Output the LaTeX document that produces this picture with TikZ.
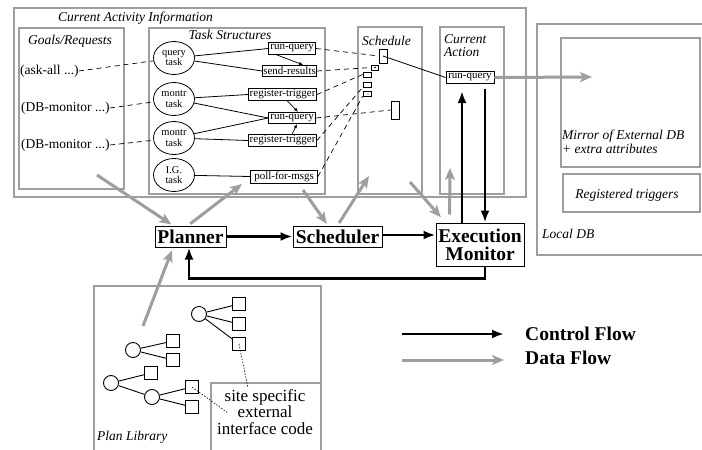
\documentclass[tikz,border=0pt]{standalone}
\usepackage{fontspec}
\setmainfont{Liberation Serif}
\usetikzlibrary{arrows.meta,shapes.geometric}
\definecolor{lgray}{RGB}{158,158,158}
\tikzset{
  gbox/.style={draw=lgray, line width=2pt, inner sep=0pt, anchor=north west},
  itl/.style={font=\fontsize{13.5}{14.5}\selectfont\itshape, inner sep=0pt, align=left},
  tbox/.style={draw, line width=0.8pt, inner sep=0pt, minimum height=11.5pt, font=\fontsize{11}{11}\selectfont, anchor=east},
  tcirc/.style={draw, ellipse, line width=0.8pt, minimum width=41pt, minimum height=33pt, inner sep=0pt, font=\fontsize{10.5}{10.5}\selectfont, align=center},
  goal/.style={font=\fontsize{13.5}{15}\selectfont, inner sep=0pt, anchor=west},
  dline/.style={dash pattern=on 5pt off 4pt, line width=0.7pt},
  tline/.style={line width=0.8pt},
  tarr/.style={line width=0.7pt, -{Latex[length=4pt,width=3.5pt]}},
  sbox/.style={draw, line width=0.7pt, inner sep=0pt},
  ctrl/.style={line width=2.6pt, -{Latex[length=12pt,width=9pt]}},
  data/.style={draw=lgray, line width=3pt, -{Stealth[length=12pt,width=10pt,inset=3pt]}},
  modbox/.style={draw, line width=1pt, inner sep=0pt, font=\fontsize{19.5}{18}\selectfont\bfseries, align=center},
  pcirc/.style={draw, circle, line width=0.9pt, minimum size=15pt, inner sep=0pt},
  psq/.style={draw, line width=0.9pt, minimum size=13pt, inner sep=0pt},
  pline/.style={line width=0.9pt},
  dotl/.style={dash pattern=on 1.5pt off 1.5pt, line width=0.6pt},
}
\begin{document}
\begin{tikzpicture}[x=1pt,y=-1pt]
\useasboundingbox (0,0) rectangle (702,450);
\fill[white] (0,0) rectangle (702,450);

% ---------- gray container boxes ----------
\node[gbox, minimum width=512pt, minimum height=189pt] (cai) at (13,7) {};
\node[gbox, minimum width=105pt, minimum height=161pt] (goals) at (18,27) {};
\node[gbox, minimum width=176pt, minimum height=166pt] (tasks) at (148,27) {};
\node[gbox, minimum width=64pt, minimum height=167pt] (sched) at (357,26) {};
\node[gbox, minimum width=64pt, minimum height=167pt] (curr) at (439,26) {};
\node[gbox, minimum width=180pt, minimum height=231pt] (ldb) at (536,23) {};
\node[gbox, minimum width=139pt, minimum height=129pt] (mirror) at (560,37) {};
\node[gbox, minimum width=137pt, minimum height=38pt] (trig) at (562,173) {};
\node[gbox, minimum width=227pt, minimum height=170pt] (plib) at (93,285) {};
\node[gbox, minimum width=110pt, minimum height=72pt] (site) at (210,382) {};

% ---------- labels of containers ----------
\node[itl, anchor=west] (caiT) at (58,18) {Current Activity Information};
\node[itl] (goalsT) at (70,41) {Goals/Requests};
\node[itl] (tasksT) at (230,35) {Task Structures};
\node[itl] (schedT) at (386.5,41) {Schedule};
\node[itl, anchor=north west] (currT) at (444,34) {Current\\[-1pt]Action};
\node[itl, anchor=west] (mirrorT) at (562,142) {Mirror of External DB\\+ extra attributes};
\node[itl] (trigT) at (627,195) {Registered triggers};
\node[itl, anchor=west] (ldbT) at (542,234) {Local DB};
\node[itl, anchor=west] (plibT) at (97,437) {Plan Library};
\node[font=\fontsize{17}{16.7}\selectfont, inner sep=0pt, align=center] (siteT) at (265,412) {site specific\\external\\interface code};

% ---------- goals ----------
\node[goal] (ask) at (20,71) {(ask-all ...)};
\node[goal] (db1) at (21,108) {(DB-monitor ...)};
\node[goal] (db2) at (21,145) {(DB-monitor ...)};

% ---------- task structures ----------
\node[tcirc] (qt) at (174,58) {query\\task};
\node[tcirc] (m1) at (174,99) {montr\\task};
\node[tcirc] (m2) at (174,138) {montr\\task};
\node[tcirc] (ig) at (174,175) {I.G.\\task};

\node[tbox, minimum width=47pt] (rq1) at (316,48.5) {run-query};
\node[tbox, minimum width=54pt] (sr) at (317,71) {send-results};
\node[tbox, minimum width=68pt] (rt1) at (317,94.5) {register-trigger};
\node[tbox, minimum width=47pt] (rq2) at (316,118) {run-query};
\node[tbox, minimum width=68pt] (rt2) at (317,140.5) {register-trigger};
\node[tbox, minimum width=67pt, minimum height=13pt] (pfm) at (318,176.5) {poll-for-msgs};

\draw[dline] (ask.east) -- (qt);
\draw[dline] (db1.east) -- (m1);
\draw[dline] (db2.east) -- (m2);

\draw[tline] (qt) -- (rq1.west);
\draw[tline] (qt) -- (sr.west);
\draw[tline] (m1) -- (rt1.west);
\draw[tline] (m1) -- (rq2.west);
\draw[tline] (m2) -- (rq2.west);
\draw[tline] (m2) -- (rt2.west);
\draw[tline] (ig) -- (pfm.west);

\draw[tarr] ([xshift=8pt]rq1.south west) -- ([xshift=-14pt]sr.north east);
\draw[tarr] ([xshift=-30pt]rt1.south east) -- ([xshift=-18pt]rq2.north east);
\draw[tarr] ([xshift=-25pt]rt2.north east) -- ([xshift=-19pt]rq2.south east);

% ---------- schedule ----------
\node[sbox, minimum width=8pt, minimum height=14pt] (s1) at (383,56) {};
\node[sbox, minimum width=6.5pt, minimum height=5pt] (s2) at (375,67.5) {};
\node[sbox, minimum width=8pt, minimum height=5pt] (s3) at (367,74.5) {};
\node[sbox, minimum width=8pt, minimum height=5pt] (s4) at (367,84.5) {};
\node[sbox, minimum width=8pt, minimum height=5pt] (s5) at (367,93.5) {};
\node[sbox, minimum width=8pt, minimum height=18pt] (s6) at (395,110) {};
\fill (s2.center) circle (0.8pt);
\fill ([xshift=1pt,yshift=-0.5pt]s5.center) circle (0.7pt);

\draw[dline] (rq1.east) -- (s1.west);
\draw[dline] (sr.east) -- (s2.west);
\draw[dline] (rt1.east) -- (s3.west);
\draw[dline] (rq2.east) -- (s6.west);
\draw[dline] (rt2.east) -- (s4.south west);
\draw[dline] (pfm.east) -- (s5.south west);

% ---------- current action ----------
\node[tbox, anchor=center, minimum width=48pt] (carq) at (470,77.5) {run-query};
\draw[tline] (s1.center) -- (carq.west);

% ---------- modules ----------
\node[modbox, minimum width=71pt, minimum height=21pt] (planner) at (190.5,236.5) {Planner};
\node[modbox, minimum width=89pt, minimum height=21pt] (scheduler) at (337.5,236.5) {Scheduler};
\node[modbox, minimum width=88pt, minimum height=43pt] (exec) at (480,244.5) {Execution\\Monitor};

% control flow
\draw[ctrl] (planner.east) -- (scheduler.west);
\draw[ctrl] ([yshift=1.5pt]scheduler.east) -- ([yshift=1.5pt]scheduler.east -| exec.west);
\draw[ctrl] ([xshift=5pt]exec.south) -- ++(0,12) -| ([xshift=-1.5pt]planner.south);
\coordinate (caUp) at (462,91);
\coordinate (caDn) at (485,89);
\draw[ctrl] ([xshift=-18pt]exec.north) -- (caUp);
\draw[ctrl] (caDn) -- ([xshift=5pt]exec.north);

% data flow
\coordinate (d1s) at (97,175);
\coordinate (d2e) at (242,184);
\coordinate (d3s) at (303,190);
\coordinate (d4e) at (369,176);
\coordinate (d5s) at (410,182);
\coordinate (d6e) at (450,168);
\coordinate (d7s) at (143,326);
\coordinate (d8e) at (592,77);
\draw[data, shorten >=2pt] (d1s) -- ([xshift=-17.5pt]planner.north);
\draw[data, shorten <=3pt] ([xshift=-2.5pt]planner.north) -- (d2e);
\draw[data, shorten >=2pt] (d3s) -- ([xshift=-9.5pt]scheduler.north);
\draw[data, shorten <=3pt] (scheduler.north) -- (d4e);
\draw[data, shorten >=7pt] (d5s) -- ([xshift=10pt]exec.north west);
\draw[data, shorten <=8pt] ([xshift=14pt]exec.north west) -- (d6e);
\draw[data, shorten >=3pt] (d7s) -- ([xshift=-17.5pt]planner.south);
\draw[data] (carq.east) -- (d8e);

% ---------- plan library trees ----------
\node[pcirc] (ca) at (199,314) {};
\node[psq] (sa1) at (239,304) {};
\node[psq] (sa2) at (239,324) {};
\node[psq] (sa3) at (239,344) {};
\node[pcirc] (cb) at (133,350) {};
\node[psq] (sb1) at (173,341) {};
\node[psq] (sb2) at (173,360) {};
\node[pcirc] (cc) at (111,383) {};
\node[psq] (sc1) at (151,373) {};
\node[pcirc] (cc2) at (152,397) {};
\node[psq] (sc2) at (192,387) {};
\node[psq] (sc3) at (192,407) {};
\foreach \c/\s in {ca/sa1,ca/sa2,ca/sa3,cb/sb1,cb/sb2,cc/sc1,cc/cc2,cc2/sc2,cc2/sc3}
  \draw[pline] (\c) -- (\s);
\coordinate (dotA) at (248,388);
\coordinate (dotB) at (228,413);
\draw[dotl] (sa3.center) -- (dotA);
\draw[dotl] (sc2.center) -- (dotB);

% ---------- legend ----------
\coordinate (lc1) at (402,334);
\coordinate (lc2) at (504,334);
\coordinate (ld1) at (402,360);
\coordinate (ld2) at (504,360);
\draw[ctrl] (lc1) -- (lc2);
\draw[data] (ld1) -- (ld2);
\node[font=\fontsize{19.5}{20}\selectfont\bfseries, inner sep=0pt, anchor=west] (lcT) at (525,334) {Control Flow};
\node[font=\fontsize{19.5}{20}\selectfont\bfseries, inner sep=0pt, anchor=west] (ldT) at (525,358) {Data Flow};
\end{tikzpicture}
\end{document}
